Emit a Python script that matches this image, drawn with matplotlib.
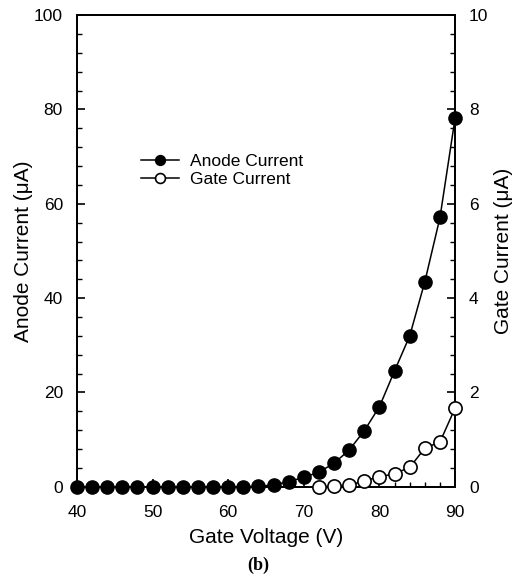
import matplotlib
matplotlib.use("Agg")
import matplotlib.pyplot as plt
from matplotlib.ticker import AutoMinorLocator, MultipleLocator

plt.rcParams["font.family"] = ["Liberation Sans", "DejaVu Sans"]

gate_voltage = [40, 42, 44, 46, 48, 50, 52, 54, 56, 58, 60, 62, 64, 66, 68,
                70, 72, 74, 76, 78, 80, 82, 84, 86, 88, 90]
anode_current = [0, 0, 0, 0, 0, 0, 0, 0, 0, 0, 0, 0, 0.1, 0.4, 1.1,
                 2.0, 3.1, 5.0, 7.8, 11.9, 17.0, 24.6, 32.0, 43.5, 57.1, 78.2]

gate_v_gate = [72, 74, 76, 78, 80, 82, 84, 86, 88, 90]
gate_current = [0.0, 0.01, 0.03, 0.13, 0.21, 0.28, 0.41, 0.82, 0.95, 1.67]

fig = plt.figure(figsize=(5.16, 5.83), dpi=100)
ax = fig.add_axes([0.149, 0.165, 0.733, 0.809])
ax2 = ax.twinx()

la, = ax.plot(gate_voltage, anode_current, "-o", color="black", lw=1.1,
              ms=9.5, mfc="black", mec="black", clip_on=False, zorder=3)
lg, = ax2.plot(gate_v_gate, gate_current, "-o", color="black", lw=1.1,
               ms=9.5, mfc="white", mec="black", mew=1.2, clip_on=False, zorder=3)

ax.set_xlim(40, 90)
ax.set_ylim(0, 100)
ax2.set_ylim(0, 10)

ax.xaxis.set_major_locator(MultipleLocator(10))
ax.yaxis.set_major_locator(MultipleLocator(20))
ax2.yaxis.set_major_locator(MultipleLocator(2))
for a in (ax, ax2):
    a.xaxis.set_minor_locator(AutoMinorLocator(5))
    a.yaxis.set_minor_locator(AutoMinorLocator(5))
    a.tick_params(which="major", direction="in", length=6, width=1.2, labelsize=12.5)
    a.tick_params(which="minor", direction="in", length=3.5, width=1)
    for s in a.spines.values():
        s.set_linewidth(1.3)
ax.tick_params(axis="x", which="major", pad=13)
ax.tick_params(axis="y", which="major", pad=10)
ax2.tick_params(axis="y", which="major", pad=10)

ax.set_xlabel("Gate Voltage (V)", fontsize=15, labelpad=6)
ax.set_ylabel("Anode Current (\u03bcA)", fontsize=15, labelpad=1)
ax2.set_ylabel("Gate Current (\u03bcA)", fontsize=15, labelpad=4)

ax.legend([la, lg], ["Anode Current", "Gate Current"], loc="upper left",
          bbox_to_anchor=(0.17, 0.705), frameon=False, fontsize=12.5,
          markerscale=0.75, handlelength=2.2, handletextpad=0.6,
          borderaxespad=0, borderpad=0, labelspacing=0.15)

fig.text(0.5, 0.03, "(b)", ha="center", va="center", fontsize=13,
         fontweight="bold", family=["Liberation Serif", "DejaVu Serif"])

fig.savefig("out.png", dpi=100)
